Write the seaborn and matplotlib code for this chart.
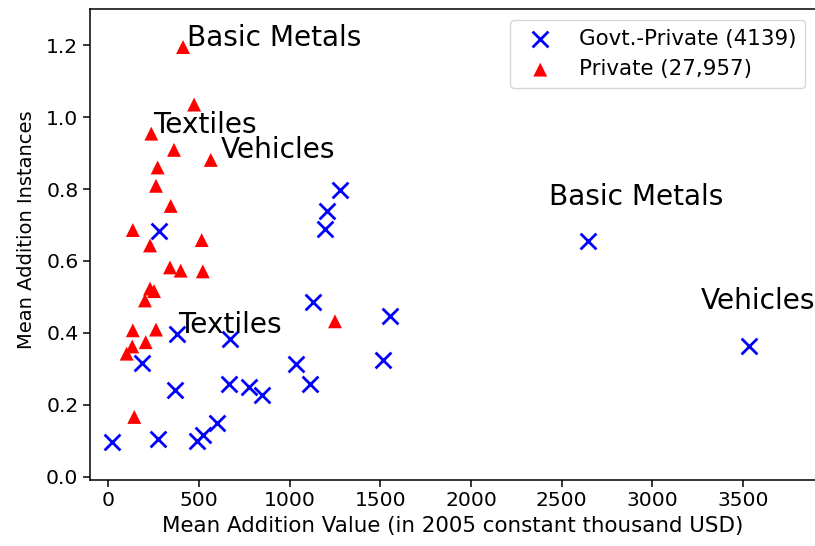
import matplotlib
matplotlib.use("Agg")
import matplotlib.pyplot as plt
import pandas as pd
import seaborn as sns

# Government-private firms: mean addition value vs. mean addition instances
gov_value = [1278, 1208, 1195, 281, 1130, 1553, 380, 671, 187, 1035, 1515,
             368, 664, 774, 846, 1112, 598, 524, 491, 276, 22, 2647, 3533]
gov_instances = [0.797, 0.738, 0.690, 0.684, 0.487, 0.447, 0.396, 0.384, 0.317,
                 0.314, 0.324, 0.242, 0.259, 0.250, 0.226, 0.257, 0.150, 0.116,
                 0.099, 0.104, 0.097, 0.656, 0.363]

# Private firms
priv_value = [412, 473, 237, 362, 565, 272, 263, 344, 135, 515, 230, 340, 399,
              521, 230, 252, 202, 135, 263, 1250, 132, 206, 101, 143]
priv_instances = [1.195, 1.035, 0.954, 0.909, 0.881, 0.860, 0.809, 0.753, 0.686,
                  0.658, 0.643, 0.582, 0.573, 0.571, 0.523, 0.516, 0.490, 0.407,
                  0.409, 0.432, 0.362, 0.374, 0.342, 0.166]

gov_label = "Govt.-Private (4139)"
priv_label = "Private (27,957)"

# Named sectors and the index of their point in each series
sectors = ["Basic Metals", "Textiles", "Vehicles"]
gov_sector_idx = [21, 6, 22]
priv_sector_idx = [0, 2, 4]

x_ticks = [0, 500, 1000, 1500, 2000, 2500, 3000, 3500]
y_ticks = [0.0, 0.2, 0.4, 0.6, 0.8, 1.0, 1.2]

gov = pd.DataFrame({"value": gov_value, "instances": gov_instances})
priv = pd.DataFrame({"value": priv_value, "instances": priv_instances})

sns.set_style("ticks")
plt.rcParams["font.family"] = ["DejaVu Sans"]
plt.rcParams["text.color"] = "black"
plt.rcParams["axes.labelcolor"] = "black"
plt.rcParams["xtick.color"] = "black"
plt.rcParams["ytick.color"] = "black"

W, H = 815, 546
fig = plt.figure(figsize=(W / 100, H / 100), dpi=100)
ax = fig.add_axes([90.2 / W, (H - 479.5) / H, (815.5 - 90.2) / W, (479.5 - 9.3) / H])

sns.scatterplot(data=gov, x="value", y="instances", ax=ax, marker="x",
                color="#0000ff", s=130, linewidth=2.0, label=gov_label)
sns.scatterplot(data=priv, x="value", y="instances", ax=ax, marker="^",
                color="#ff0000", s=100, linewidth=0, edgecolor="none",
                label=priv_label)

# Sector labels (offsets in pixels from each point)
gov_offsets = [(-39, 36), (1, 1), (-48, 37)]
priv_offsets = [(4, 1), (2, 1), (10.5, 2)]
for name, i, off in zip(sectors, gov_sector_idx, gov_offsets):
    ax.annotate(name, (gov_value[i], gov_instances[i]), xytext=off,
                textcoords="offset pixels", fontsize=20.2, color="black",
                annotation_clip=False)
for name, i, off in zip(sectors, priv_sector_idx, priv_offsets):
    ax.annotate(name, (priv_value[i], priv_instances[i]), xytext=off,
                textcoords="offset pixels", fontsize=20.2, color="black",
                annotation_clip=False)

ax.set_xlim(-100, 3900)
ax.set_ylim(-0.008, 1.3)
ax.set_xticks(x_ticks)
ax.set_yticks(y_ticks)
ax.set_xticklabels([str(v) for v in x_ticks])
ax.set_yticklabels([f"{v:.1f}" for v in y_ticks])
ax.tick_params(labelsize=14.6, length=5, width=1.1, color="black",
               labelcolor="black")
for sp in ax.spines.values():
    sp.set_linewidth(1.1)
    sp.set_color("black")
    sp.set_visible(True)

ax.set_xlabel("Mean Addition Value (in 2005 constant thousand USD)", fontsize=15.4)
ax.set_ylabel("Mean Addition Instances", fontsize=14.0)
ax.yaxis.set_label_coords(-0.0745, 0.5306)

leg = ax.legend(loc="upper right", fontsize=15.4, frameon=True, fancybox=True,
                framealpha=0.8, edgecolor="0.8", scatterpoints=1)

fig.savefig("out.png", dpi=100)
